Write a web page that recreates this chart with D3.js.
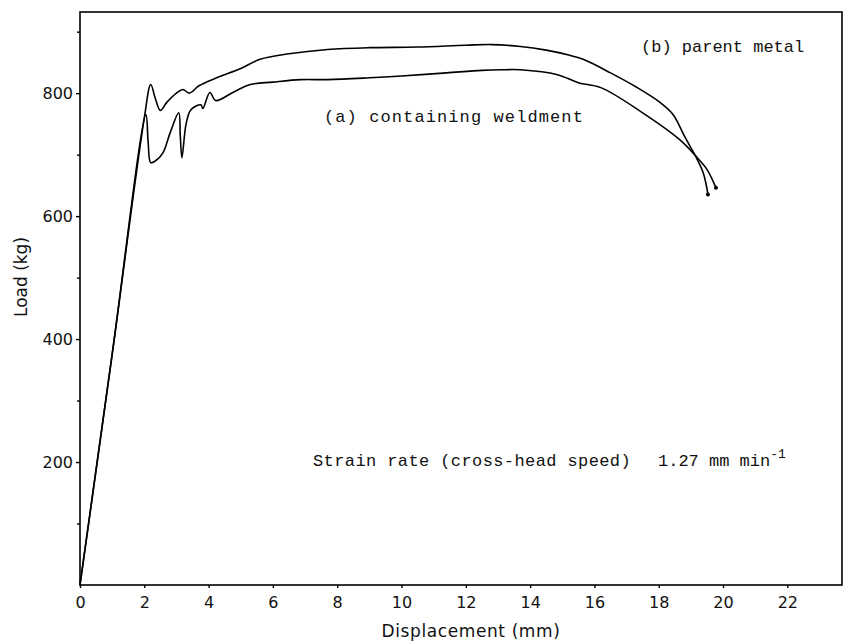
<!DOCTYPE html>
<html><head><meta charset="utf-8">
<script src="https://cdn.jsdelivr.net/npm/d3@7"></script>
<style>body{margin:0;background:#fff}</style>
</head><body><svg id="c" width="844" height="644"></svg>
<script>
// Data
const xTicks = [0,2,4,6,8,10,12,14,16,18,20,22];
const yTicksMajor = [200,400,600,800];
const yTicksMinor = [100,300,500,700,900];
// (b) parent metal
const parentX = [0,1.0,2.0,2.2,2.35,2.5,2.7,3.0,3.2,3.4,3.7,4.2,5.0,5.6,6.5,7.7,9,10.5,12,12.8,13.7,14.5,15.2,15.65,16.5,17.3,18.04,18.45,18.8,19.2,19.38,19.53];
const parentY = [0,375,760,814,790,772,785,800,806,800,812,824,840,855,864,871,874,875,878,879,876,870,862,855,833,810,785,765,730,692,671,635];
// (a) containing weldment
const weldX = [0,1.0,2.05,2.12,2.2,2.35,2.58,2.8,3.07,3.12,3.17,3.3,3.45,3.76,3.82,4.04,4.22,4.78,5.3,6.0,6.86,7.7,9.0,10,11.4,12.5,13.1,13.7,14.85,15.5,16.2,17.5,18.66,19.2,19.5,19.78];
const weldY = [0,375,765,720,687,690,703,735,768,730,695,750,773,781,775,801,788,802,814,818,822,822,825,828,833,837,838,838,830,817,809,768,724,695,676,646];

const svg = d3.select("#c");
const L=80, R=842, T=12, B=585;
const x = d3.scaleLinear().domain([0,23.7]).range([L,R]);
const y = d3.scaleLinear().domain([0,932]).range([B,T]);
const tickFont = "'DejaVu Sans', sans-serif";
const monoFont = "'Liberation Mono', monospace";

// frame
svg.append("rect").attr("x",L).attr("y",T).attr("width",R-L).attr("height",B-T)
  .attr("fill","none").attr("stroke","#000").attr("stroke-width",1.6);

// x axis
const xAxis = svg.append("g").attr("transform",`translate(0,${B})`)
  .call(d3.axisBottom(x).tickValues(xTicks).tickSize(3).tickFormat(d3.format("d")));
xAxis.select(".domain").remove();
xAxis.selectAll("text").attr("font-family",tickFont).attr("font-size",16).attr("fill","#111").attr("dy","1.05em");
// y axis
const yAxis = svg.append("g").attr("transform",`translate(${L},0)`)
  .call(d3.axisLeft(y).tickValues(yTicksMajor).tickSize(4).tickFormat(d3.format("d")));
yAxis.select(".domain").remove();
yAxis.selectAll("text").attr("font-family",tickFont).attr("font-size",16).attr("fill","#111").attr("x",-7);
const yMinor = svg.append("g").attr("transform",`translate(${L},0)`)
  .call(d3.axisLeft(y).tickValues(yTicksMinor).tickSize(3).tickFormat(""));
yMinor.select(".domain").remove();
svg.selectAll(".tick line").attr("stroke","#000").attr("stroke-width",1.4);

// axis labels
svg.append("text").attr("x",471).attr("y",637).attr("text-anchor","middle")
  .attr("font-family",tickFont).attr("font-size",17).attr("letter-spacing",0.6).attr("fill","#111").text("Displacement (mm)");
svg.append("text").attr("transform","translate(27,277) rotate(-90)").attr("text-anchor","middle")
  .attr("font-family",tickFont).attr("font-size",17).attr("fill","#111").text("Load (kg)");

// curves
const line = d3.line().x(d=>x(d[0])).y(d=>y(d[1])).curve(d3.curveCatmullRom.alpha(0.5));
const series = [d3.zip(parentX,parentY), d3.zip(weldX,weldY)];
series.forEach(s=>{
  svg.append("path").datum(s).attr("d",line).attr("fill","none").attr("stroke","#000").attr("stroke-width",1.6);
  const e = s[s.length-1];
  svg.append("circle").attr("cx",x(e[0])).attr("cy",y(e[1])).attr("r",2).attr("fill","#000");
});

// annotations
const ann = (tx,ty,txt,ls)=>svg.append("text").attr("x",tx).attr("y",ty)
  .attr("font-family",monoFont).attr("font-size",17).attr("letter-spacing",ls).attr("fill","#111").text(txt);
ann(641,52,"(b) parent metal",0);
ann(324,122,"(a) containing weldment",1.1);
const st = ann(313,466,"Strain rate (cross-head speed)",0.4);
const t2 = svg.append("text").attr("x",658).attr("y",466).attr("font-family",monoFont).attr("font-size",17).attr("fill","#111");
t2.append("tspan").text("1.27 mm min");
t2.append("tspan").attr("dy",-8).attr("font-size",13).text("-1");
</script></body></html>
